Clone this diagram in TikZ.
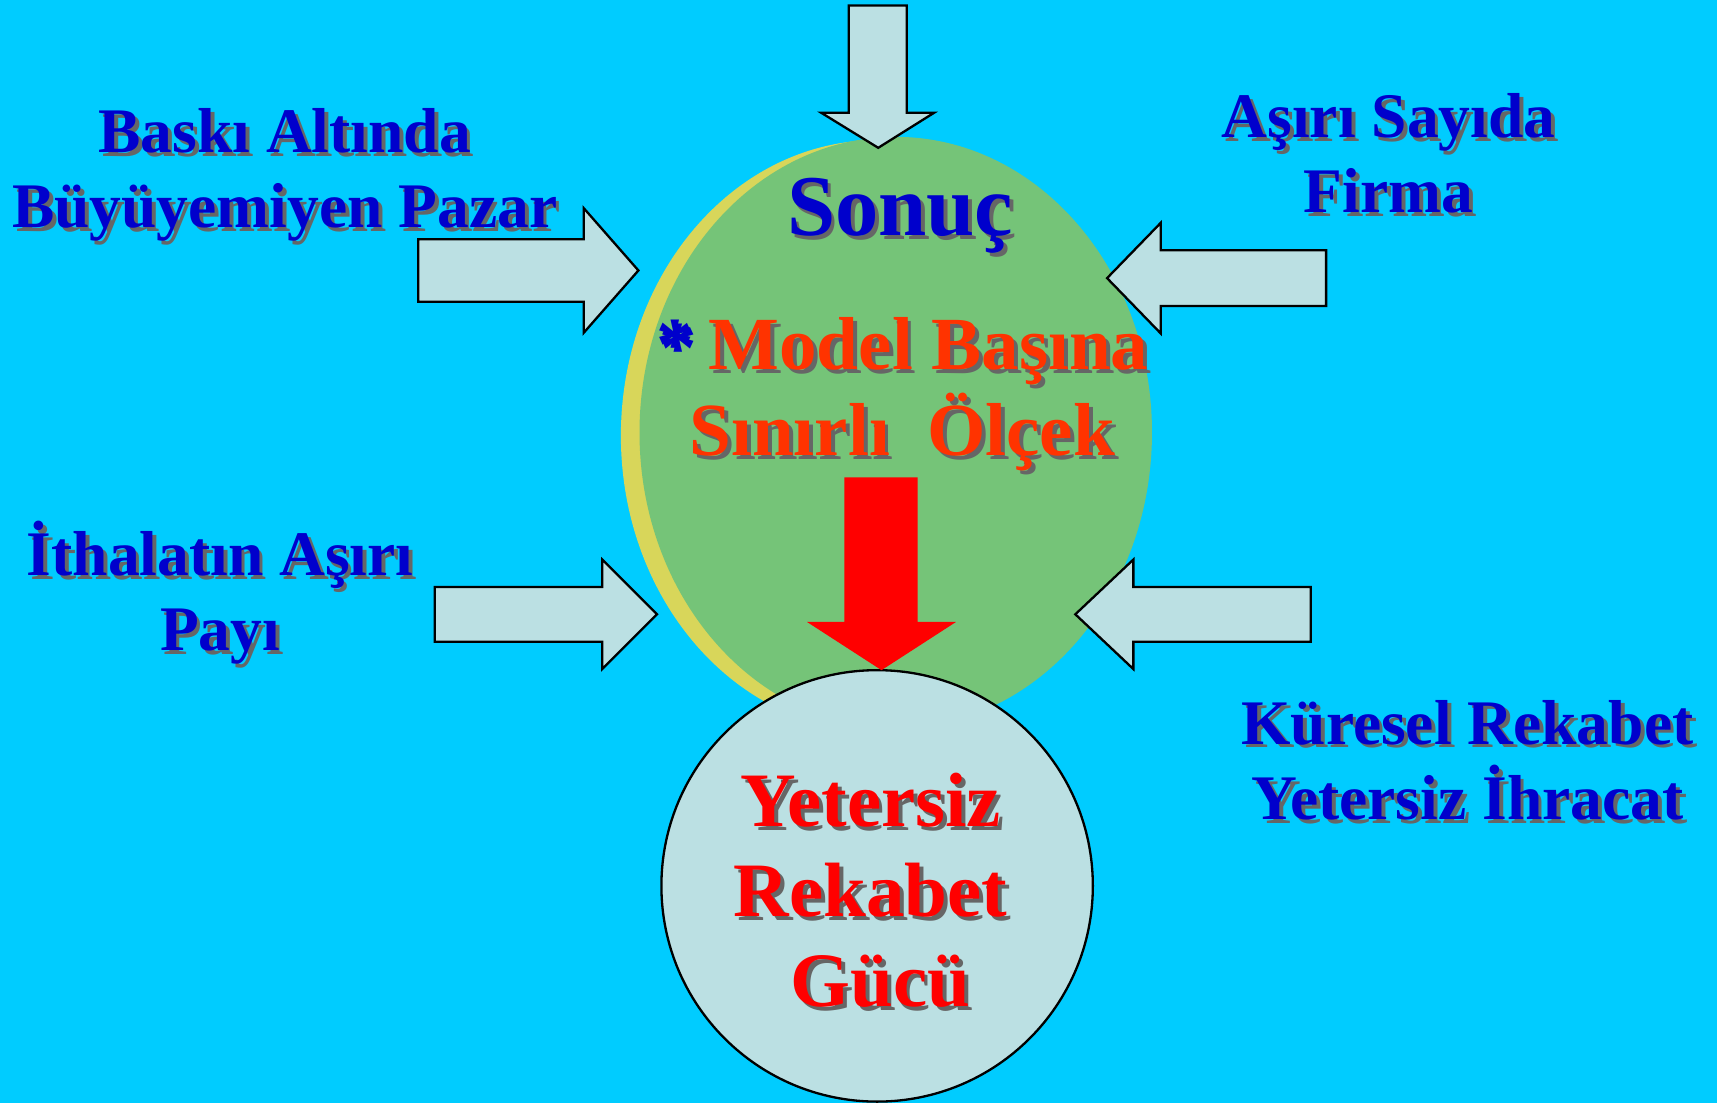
\documentclass[tikz,border=0pt]{standalone}
\usepackage{fontspec}
\setmainfont{Liberation Serif}
\definecolor{fond}{HTML}{00CCFF}
\definecolor{vert}{HTML}{75C478}
\definecolor{jaune}{HTML}{D8D65A}
\definecolor{clair}{HTML}{BBE0E3}
\definecolor{bleu}{HTML}{0000CC}
\definecolor{orange}{HTML}{FF3300}
\newcommand\ombre[1]{\rlap{\kern1pt\raisebox{-1pt}[0pt][0pt]{\color{black!60}#1}}#1}
\tikzset{
    fleche/.style={draw=black, line width=0.6pt, fill=clair, line join=miter},
    titre/.style={text=bleu, align=center, font=\bfseries\fontsize{16.5}{19.5}\selectfont}
}

\begin{document}
\begin{tikzpicture}
    % Fond
    \fill[fond] (0,0) rectangle (15.68,10.07);
    \useasboundingbox (0,0) rectangle (15.68,10.07);

    % Disque vert avec bord jaune
    \fill[jaune] (8.01,6.09) ellipse (2.34 and 2.70);
    \fill[vert] (8.18,6.12) ellipse (2.34 and 2.70);

    % Flèche du haut
    \draw[fleche] (7.75,10.02) -- (8.28,10.02) -- (8.28,9.04) -- (8.53,9.04)
        -- (8.02,8.72) -- (7.50,9.04) -- (7.75,9.04) -- cycle;

    % Flèches latérales
    \foreach \xa/\xb/\xt/\y/\w/\h in {3.82/5.33/5.83/7.60/0.285/0.57,
            12.11/10.60/10.11/7.53/0.255/0.505,
            3.97/5.50/6.00/4.46/0.25/0.5,
            11.97/10.35/9.82/4.46/0.25/0.5} {
        \draw[fleche] (\xa,\y+\w) -- (\xb,\y+\w) -- (\xb,\y+\h) -- (\xt,\y)
            -- (\xb,\y-\h) -- (\xb,\y-\w) -- (\xa,\y-\w) -- cycle;
    }

    % Disque du bas
    \draw[fleche] (8.01,1.98) circle (1.97);

    % Flèche rouge
    \fill[red] (7.71,5.71) -- (8.38,5.71) -- (8.38,4.39) -- (8.73,4.39)
        -- (8.05,3.95) -- (7.37,4.39) -- (7.71,4.39) -- cycle;

    % Textes
    \node[titre] (baski) at (2.60,8.47) {\ombre{Baskı Altında}\\\ombre{Büyüyemiyen Pazar}};
    \node[titre] (asiri) at (12.68,8.67) {\ombre{Aşırı Sayıda}\\\ombre{Firma}};
    \node[titre] (ithalat) at (2.01,4.66) {\ombre{İthalatın Aşırı}\\\ombre{Payı}};
    \node[titre] (kuresel) at (13.40,3.13) {\ombre{Küresel Rekabet}\\\ombre{Yetersiz İhracat}};
    \node[text=bleu, anchor=base, font=\bfseries\fontsize{22.5}{26}\selectfont] (sonuc) at (8.22,7.92) {\ombre{Sonuç}};
    \node[text=orange, align=center, font=\bfseries\fontsize{19.5}{22.2}\selectfont] (model) at (8.24,6.47)
        {\ombre{\textcolor{bleu}{*}}\hspace{0.2em}\ombre{Model Başına}\\\ombre{Sınırlı~~Ölçek}};
    \node[text=red, align=center, font=\bfseries\fontsize{20}{23.3}\selectfont] (yetersiz) at (7.95,1.94)
        {\ombre{Yetersiz}\\\ombre{Rekabet}\\~\ombre{Gücü}};
\end{tikzpicture}
\end{document}
